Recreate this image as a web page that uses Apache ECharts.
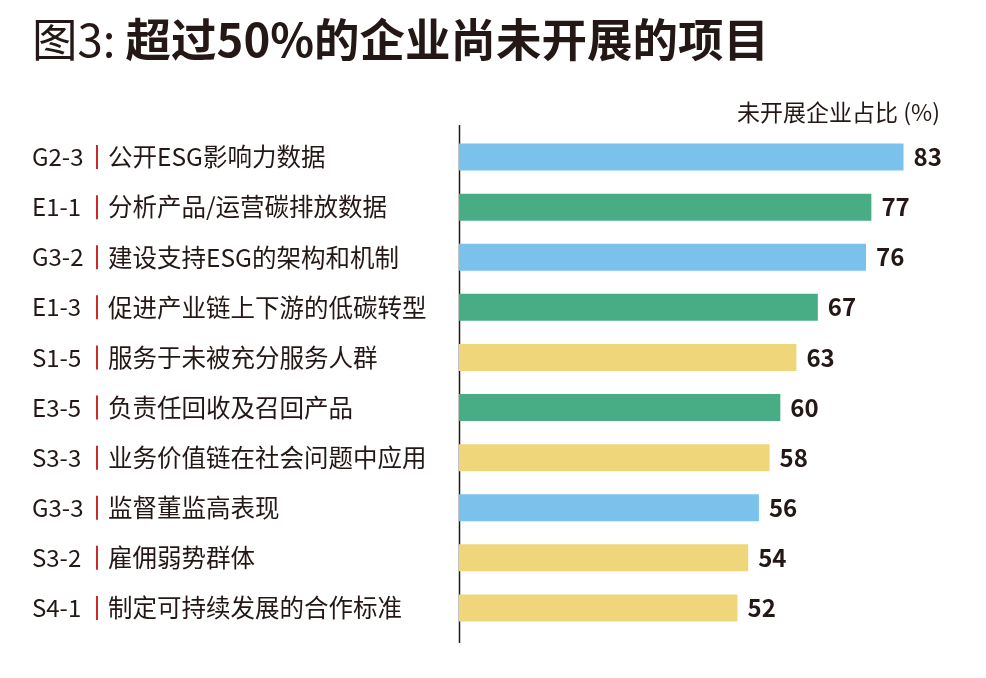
<!DOCTYPE html>
<html>
<head>
<meta charset="utf-8">
<title>图3</title>
<script src="https://cdn.jsdelivr.net/npm/echarts@6/dist/echarts.min.js"></script>
<style>
	html, body { margin: 0; padding: 0; background: #fff; }
	#chartmain { width: 986px; height: 678px; }
</style>
</head>
<body>
<div id="chartmain"></div>
<script>
var codes = ['G2-3', 'E1-1', 'G3-2', 'E1-3', 'S1-5', 'E3-5', 'S3-3', 'G3-3', 'S3-2', 'S4-1'];
var names = ['公开ESG影响力数据', '分析产品/运营碳排放数据', '建设支持ESG的架构和机制', '促进产业链上下游的低碳转型',
	'服务于未被充分服务人群', '负责任回收及召回产品', '业务价值链在社会问题中应用', '监督董监高表现', '雇佣弱势群体', '制定可持续发展的合作标准'];
var values = [83, 77, 76, 67, 63, 60, 58, 56, 54, 52];
var colorMap = { G: '#7ac2ec', E: '#48ac85', S: '#efd67b' };

var font = '"Noto Sans CJK SC", "Noto Sans", sans-serif';
var textColor = '#231815';

var barData = [];
for (var i = 0; i < values.length; i++) {
	barData.push({
		value: values[i],
		itemStyle: { color: colorMap[codes[i].charAt(0)] }
	});
}

var option = {
	animation: false,
	backgroundColor: '#fff',
	title: {
		left: 27,
		top: 12,
		text: '{a|图3: }{b|超过50%的企业尚未开展的项目}',
		textStyle: {
			rich: {
				a: { fontSize: 45.5, fontWeight: 'normal', color: textColor, fontFamily: font },
				b: { fontSize: 45.5, fontWeight: 'bold', color: textColor, fontFamily: font }
			}
		}
	},
	graphic: [{
		type: 'text',
		right: 46,
		top: 101,
		style: {
			text: '未开展企业占比 (%)',
			fontSize: 23,
			fontFamily: font,
			fill: textColor
		}
	}, {
		type: 'line',
		shape: { x1: 459.5, y1: 125, x2: 459.5, y2: 643 },
		style: { stroke: '#231815', lineWidth: 1.5 }
	}],
	grid: {
		left: 459,
		top: 132,
		height: 501,
		right: 45
	},
	xAxis: {
		type: 'value',
		min: 0,
		max: 90,
		show: false
	},
	yAxis: {
		type: 'category',
		inverse: true,
		data: codes,
		axisLine: { show: false },
		axisTick: { show: false },
		axisLabel: {
			align: 'left',
			margin: 427,
			formatter: function (v, idx) {
				return '{code|' + v + '}{sep|}{name|' + names[idx] + '}';
			},
			rich: {
				code: { width: 64, fontSize: 24, fontFamily: font, color: textColor },
				sep: { width: 2, height: 24, backgroundColor: '#cc2a2a' },
				name: { fontSize: 24.5, fontFamily: font, color: textColor, padding: [0, 0, 0, 10] }
			}
		}
	},
	series: [{
		type: 'bar',
		data: barData,
		barWidth: 27,
		label: {
			show: true,
			position: 'right',
			distance: 10,
			fontSize: 24,
			fontWeight: 'bold',
			fontFamily: font,
			color: textColor
		}
	}]
};

var myChart = echarts.init(document.getElementById('chartmain'));
myChart.setOption(option);
</script>
</body>
</html>
